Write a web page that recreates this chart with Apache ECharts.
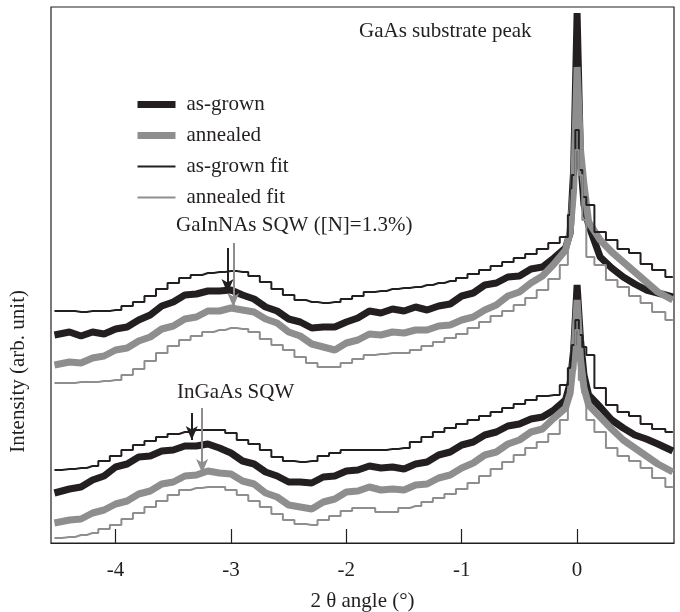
<!DOCTYPE html>
<html>
<head>
<meta charset="utf-8">
<script src="https://cdn.jsdelivr.net/npm/echarts@6/dist/echarts.min.js"></script>
<style>
  html, body { margin: 0; padding: 0; background: #fff; }
  #chart { width: 680px; height: 612px; }
</style>
</head>
<body>
<div id="chart"></div>
<script>
// 2theta angle (deg), shared by all curves
var angles = [-4.53,-4.4,-4.3,-4.2,-4.1,-4.0,-3.9,-3.8,-3.7,-3.6,-3.5,-3.4,-3.3,-3.2,-3.1,-3.0,
  -2.9,-2.8,-2.7,-2.6,-2.5,-2.4,-2.3,-2.2,-2.1,-2.0,-1.9,-1.8,-1.7,-1.6,-1.5,-1.4,-1.3,-1.2,-1.1,-1.0,
  -0.9,-0.8,-0.7,-0.6,-0.5,-0.4,-0.3,-0.2,-0.1,-0.06,-0.03,0,0.03,0.06,0.1,0.2,0.3,0.4,0.5,0.6,0.7,0.83];

// GaInNAs SQW (upper group), arb. units
var gainnasGrown = [208,211,207,211,209,214,216,223,228,237,241,248,249,252,252,253,248,244,236,232,
  224,221,215,216,216,221,225,232,230,234,232,236,233,237,239,247,250,258,260,266,
  267,274,276,285,295,310,373,530,383,338,318,286,275,266,259,253,250,246];
var gainnasAnnealed = [178,181,180,185,187,193,195,202,206,214,217,224,226,232,232,235,233,231,224,220,
  211,207,199,196,193,200,203,209,208,211,210,213,213,217,218,223,226,233,238,247,
  251,260,267,279,293,311,353,476,393,358,321,303,291,281,271,261,251,243];
var gainnasGrownFit = [232,232,231,232,232,233,237,241,247,254,260,265,268,270,271,272,271,267,261,254,
  248,243,241,240,241,244,247,251,252,254,255,256,258,260,262,265,269,273,277,281,
  285,289,294,300,306,328,368,413,373,346,338,311,303,294,290,279,273,266];
var gainnasAnnealedFit = [160,160,161,161,162,163,168,174,182,190,197,203,207,211,213,215,214,211,204,198,
  193,186,180,176,176,180,184,188,189,190,190,193,197,201,205,209,215,221,227,232,
  238,245,253,264,278,303,353,393,368,323,286,278,263,256,247,240,231,223];

// InGaAs SQW (lower group), arb. units
var ingaasGrown = [50,54,56,63,67,76,79,86,87,92,93,97,97,99,95,90,82,79,71,67,
  61,61,60,66,67,72,73,77,75,76,74,79,81,88,91,98,101,108,111,117,
  119,124,126,133,143,160,193,258,203,168,148,136,123,115,108,104,99,92];
var ingaasAnnealed = [20,23,24,30,33,39,42,49,52,59,61,67,68,72,70,69,62,59,50,46,
  38,36,34,41,44,51,52,56,53,54,53,58,59,65,68,75,80,88,91,99,
  103,111,114,125,135,150,183,243,183,155,138,126,114,103,95,87,79,71];
var ingaasGrownFit = [73,74,75,77,82,87,93,98,102,106,109,111,113,113,113,110,103,99,93,86,
  82,81,82,87,90,93,93,93,93,94,95,101,106,111,115,119,123,127,131,135,
  139,143,147,148,158,175,198,223,208,196,188,155,138,131,127,119,114,111];
var ingaasAnnealedFit = [5,6,8,10,14,18,24,30,36,42,48,53,55,56,56,53,48,42,36,29,
  23,19,18,23,27,32,35,35,31,31,35,37,41,45,49,54,60,67,74,81,
  88,95,101,109,123,143,173,213,163,150,123,111,95,87,82,75,65,56];

var xTicks = [-4, -3, -2, -1, 0];
var legendNames = ['as-grown', 'annealed', 'as-grown fit', 'annealed fit'];

// peak-position arrows: [angle, from, to]
var arrowsGrown = [[-3.03, 295, 250], [-3.34, 130, 103]];
var arrowsAnnealed = [[-2.98, 300, 236], [-3.25, 135, 70]];

var BLACK = '#231f20';
var GRAY = '#8e8e8e';
var FONT = '"Liberation Serif", "DejaVu Serif", serif';
var THICK = 7;
var THIN = 2;

var chart = echarts.init(document.getElementById('chart'));

function pairs(vals) {
  return angles.map(function (a, i) { return [a, vals[i]]; });
}

function arrowLines(list) {
  return list.map(function (a) {
    return [{ coord: [a[0], a[1]] }, { coord: [a[0], a[2]] }];
  });
}

function curve(name, vals, color, width, isFit, arrows) {
  var s = {
    name: name,
    type: 'line',
    data: pairs(vals),
    showSymbol: false,
    symbol: 'none',
    step: isFit ? 'middle' : false,
    lineStyle: { color: color, width: width },
    itemStyle: { color: color },
    silent: true,
    z: isFit ? 3 : 2
  };
  if (arrows) {
    s.markLine = {
      silent: true,
      symbol: ['none', 'arrow'],
      symbolSize: [9, 14],
      label: { show: false },
      lineStyle: { color: color, width: 2, type: 'solid' },
      data: arrowLines(arrows)
    };
  }
  return s;
}

var legendWidths = [THICK, THICK, THIN, THIN];

var option = {
  animation: false,
  grid: {
    left: 51, right: 6, top: 7, bottom: 69,
    outerBoundsMode: 'none',
    show: true, borderColor: BLACK, borderWidth: 1.2
  },
  legend: {
    data: legendNames.map(function (n, i) {
      return { name: n, lineStyle: { width: legendWidths[i] }, itemStyle: { opacity: 0 } };
    }),
    orient: 'vertical',
    left: 134,
    top: 94,
    padding: 0,
    itemWidth: 38,
    itemHeight: 14,
    itemGap: 10,
    textStyle: { fontFamily: FONT, fontSize: 21, color: BLACK, padding: [0, 0, 0, 6] },
    selectedMode: false
  },
  xAxis: {
    type: 'value',
    min: -4.56,
    max: 0.84,
    name: '2 θ angle (°)',
    nameLocation: 'middle',
    nameGap: 48,
    nameTextStyle: { fontFamily: FONT, fontSize: 21, color: BLACK },
    axisLine: { show: true, onZero: false, lineStyle: { color: BLACK, width: 1.2 } },
    axisTick: { show: true, inside: true, length: 14, customValues: xTicks, lineStyle: { color: BLACK, width: 1.2 } },
    axisLabel: { customValues: xTicks, margin: 17, fontFamily: FONT, fontSize: 21, color: BLACK },
    splitLine: { show: false }
  },
  yAxis: {
    type: 'value',
    min: 0,
    max: 536,
    axisLine: { show: false },
    axisTick: { show: false },
    axisLabel: { show: false },
    splitLine: { show: false }
  },
  graphic: [
    { type: 'text', left: 359, top: 21, style: { text: 'GaAs substrate peak', font: '21px ' + FONT, fill: BLACK } },
    { type: 'text', left: 176, top: 215, style: { text: 'GaInNAs SQW ([N]=1.3%)', font: '21px ' + FONT, fill: BLACK } },
    { type: 'text', left: 177, top: 382, style: { text: 'InGaAs SQW', font: '21px ' + FONT, fill: BLACK } },
    { type: 'text', left: 8, top: 290, rotation: Math.PI / 2, originX: 0, originY: 0,
      style: { text: 'Intensity (arb. unit)', font: '21px ' + FONT, fill: BLACK, align: 'center', verticalAlign: 'middle' } }
  ],
  series: [
    curve('as-grown', gainnasGrown, BLACK, THICK, false, [arrowsGrown[0]]),
    curve('annealed', gainnasAnnealed, GRAY, THICK, false, [arrowsAnnealed[0]]),
    curve('as-grown fit', gainnasGrownFit, BLACK, THIN, true),
    curve('annealed fit', gainnasAnnealedFit, GRAY, THIN, true),
    curve('as-grown', ingaasGrown, BLACK, THICK, false, [arrowsGrown[1]]),
    curve('annealed', ingaasAnnealed, GRAY, THICK, false, [arrowsAnnealed[1]]),
    curve('as-grown fit', ingaasGrownFit, BLACK, THIN, true),
    curve('annealed fit', ingaasAnnealedFit, GRAY, THIN, true)
  ]
};

chart.setOption(option);
</script>
</body>
</html>
